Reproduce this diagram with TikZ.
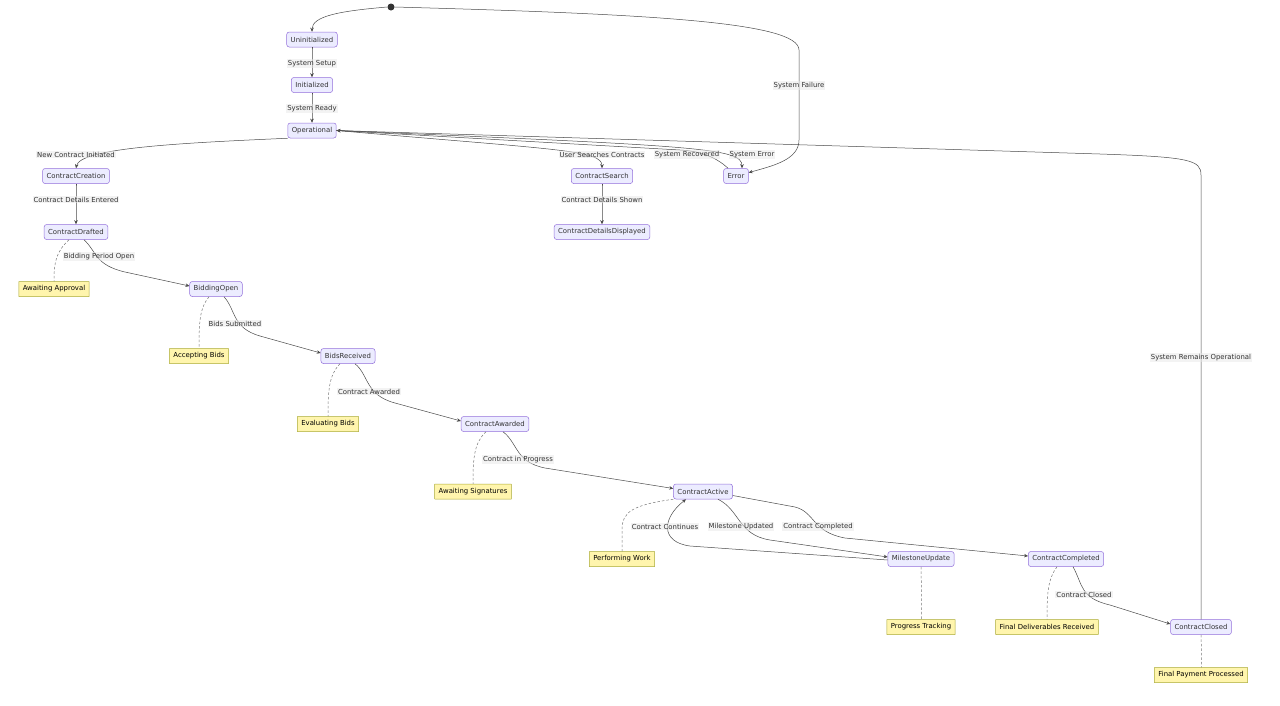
\documentclass[tikz,border=0pt]{standalone}
\usepackage{fontspec}
\setmainfont{DejaVu Sans}
\usetikzlibrary{arrows.meta}
\definecolor{nfill}{HTML}{ECECFF}
\definecolor{nline}{HTML}{9370DB}
\definecolor{notefill}{HTML}{FFF5AD}
\definecolor{noteline}{HTML}{AAAA33}
\definecolor{edgec}{HTML}{333333}
\definecolor{linec}{HTML}{4A4A4A}
\definecolor{dashc}{HTML}{777777}
\definecolor{txt}{HTML}{333333}
\definecolor{lblbg}{HTML}{E8E8E8}
\begin{document}
\begin{tikzpicture}[x=1pt,y=-1pt,font=\fontsize{6.9}{8}\selectfont,
  state/.style={draw=nline,fill=nfill,rounded corners=2.5pt,line width=0.5pt,minimum height=15pt,inner xsep=4pt,inner ysep=0pt,text=txt},
  notebox/.style={draw=noteline,fill=notefill,rounded corners=0.2pt,line width=0.5pt,minimum height=15pt,inner xsep=4pt,inner ysep=0pt,text=black},
  arr/.style={draw=linec,line width=0.5pt,-{Stealth[length=4pt,width=3.5pt]}},
  noteln/.style={draw=dashc,line width=0.5pt,dash pattern=on 2.5pt off 2pt},
  lbl/.style={fill=lblbg,fill opacity=0.5,text opacity=1,text=txt,inner sep=1pt,yshift=-1.5pt}]
\useasboundingbox (0,0) rectangle (1280,705);
\fill[white] (0,0) rectangle (1280,705);

% states
\node[circle,fill=edgec,inner sep=0pt,minimum size=7pt] (s) at (391,7) {};
\node[state] (un) at (312,39.5) {Uninitialized};
\node[state] (in) at (312,85) {Initialized};
\node[state] (op) at (312,130.5) {Operational};
\node[state] (ccr) at (76,176) {ContractCreation};
\node[state] (cs) at (602,176) {ContractSearch};
\node[state] (er) at (736,176) {Error};
\node[state] (cdd) at (602,232) {ContractDetailsDisplayed};
\node[state] (cd) at (76,232) {ContractDrafted};
\node[state] (bo) at (216,289) {BiddingOpen};
\node[state] (br) at (348,356) {BidsReceived};
\node[state] (ca) at (495,424) {ContractAwarded};
\node[state] (cact) at (703,491.5) {ContractActive};
\node[state] (mu) at (921,559) {MilestoneUpdate};
\node[state] (ccomp) at (1066,559) {ContractCompleted};
\node[state] (ccl) at (1201,627) {ContractClosed};

% notes
\node[notebox] (naa) at (54,289) {Awaiting Approval};
\node[notebox] (nab) at (199,356) {Accepting Bids};
\node[notebox] (neb) at (328,424) {Evaluating Bids};
\node[notebox] (nas) at (473,491.5) {Awaiting Signatures};
\node[notebox] (npw) at (622,559) {Performing Work};
\node[notebox] (npt) at (921,627) {Progress Tracking};
\node[notebox] (nfd) at (1047,627) {Final Deliverables Received};
\node[notebox] (nfp) at (1201,675) {Final Payment Processed};

% note links
\draw[noteln] ([xshift=-7pt]cd.south) .. controls (56,252) and (54,262) .. (naa.north);
\draw[noteln] ([xshift=-7pt]bo.south) .. controls (200,308) and (199,320) .. (nab.north);
\draw[noteln] ([xshift=-8pt]br.south) .. controls (329,375) and (328,390) .. (neb.north);
\draw[noteln] ([xshift=-9pt]ca.south) .. controls (474,443) and (473,458) .. (nas.north);
\draw[noteln] (cact.south west) .. controls (632,505) and (622,512) .. (622,530) -- (npw.north);
\draw[noteln] (mu.south) .. controls +(0.3,15) and +(0.3,-15) .. ([xshift=0.4pt]npt.north);
\draw[noteln] ([xshift=-9pt]ccomp.south) .. controls (1048,579) and (1047,592) .. (nfd.north);
\draw[noteln] (ccl.south) .. controls +(0.3,10) and +(0.3,-10) .. ([xshift=0.4pt]nfp.north);

% transitions
\draw[arr] (s.west) .. controls (340,11) and (312,16) .. (un.north);
\draw[arr] (s.east) .. controls (650,14) and (799,22) .. (799,50) -- (799,140) .. controls (799,160) and (772,166) .. (er.15);
\draw[arr] (un.south) .. controls +(0,5) and +(0,-5) .. (in.north);
\draw[arr] (in.south) .. controls +(0,5) and +(0,-5) .. (op.north);
\draw[arr] (op.south west) .. controls (180,143) and (80,148) .. (ccr.north);
\draw[arr] (op.east) .. controls (560,150) and (602,150) .. (cs.north);
\draw[arr] ([xshift=-8pt]er.north) .. controls (716,157) and (700,151) .. (680,150) -- (op.east);
\draw[arr] (op.east) .. controls (700,146) and (742,148) .. ([xshift=6pt]er.north);
\draw[arr] (ccl.north) -- (1201,175) .. controls (1201,160) and (1190,157) .. (1100,154) -- (op.east);
\draw[arr] (ccr.south) .. controls +(0,5) and +(0,-5) .. (cd.north);
\draw[arr] (cs.south) .. controls +(0,5) and +(0,-5) .. (cdd.north);
\draw[arr] ([xshift=8pt]cd.south) .. controls (97,252) and (95,265) .. (125,272) -- ([yshift=3pt]bo.west);
\draw[arr] ([xshift=8pt]bo.south) .. controls (236,310) and (232,328) .. (260,336) -- ([yshift=3pt]br.west);
\draw[arr] ([xshift=7pt]br.south) .. controls (369,375) and (365,395) .. (395,403) -- ([yshift=3pt]ca.west);
\draw[arr] ([xshift=8pt]ca.south) .. controls (518,443) and (515,462) .. (545,468) -- ([yshift=3pt]cact.west);
\draw[arr] ([xshift=15pt]cact.south) .. controls (740,510) and (738,535) .. (770,540) -- ([yshift=2pt]mu.west);
\draw[arr] ([yshift=-1pt]mu.west) -- (690,546) .. controls (660,542) and (662,518) .. ([xshift=-17pt]cact.south);
\draw[arr] ([yshift=-4pt]cact.east) -- (795,507) .. controls (815,512) and (812,532) .. (845,538) -- ([yshift=3pt]ccomp.west);
\draw[arr] ([xshift=7pt]ccomp.south) .. controls (1083,585) and (1080,598) .. (1110,605) -- ([yshift=3pt]ccl.west);

% labels
\node[lbl] (l1) at (312,62) {System Setup};
\node[lbl] (l2) at (312,107) {System Ready};
\node[lbl] (l3) at (799,84) {System Failure};
\node[lbl] (l4) at (76,153) {New Contract Initiated};
\node[lbl] (l5) at (602,153) {User Searches Contracts};
\node[lbl] (l6) at (687,153) {System Recovered};
\node[lbl] (l7) at (752,153) {System Error};
\node[lbl] (l8) at (1201,356) {System Remains Operational};
\node[lbl] (l9) at (76,198) {Contract Details Entered};
\node[lbl] (l10) at (602,198) {Contract Details Shown};
\node[lbl] (l11) at (99,255) {Bidding Period Open};
\node[lbl] (l12) at (235,322) {Bids Submitted};
\node[lbl] (l13) at (369,390) {Contract Awarded};
\node[lbl] (l14) at (518,458) {Contract in Progress};
\node[lbl] (l15) at (665,525) {Contract Continues};
\node[lbl] (l16) at (741,525) {Milestone Updated};
\node[lbl] (l17) at (818,525) {Contract Completed};
\node[lbl] (l18) at (1084,593) {Contract Closed};
\end{tikzpicture}
\end{document}
